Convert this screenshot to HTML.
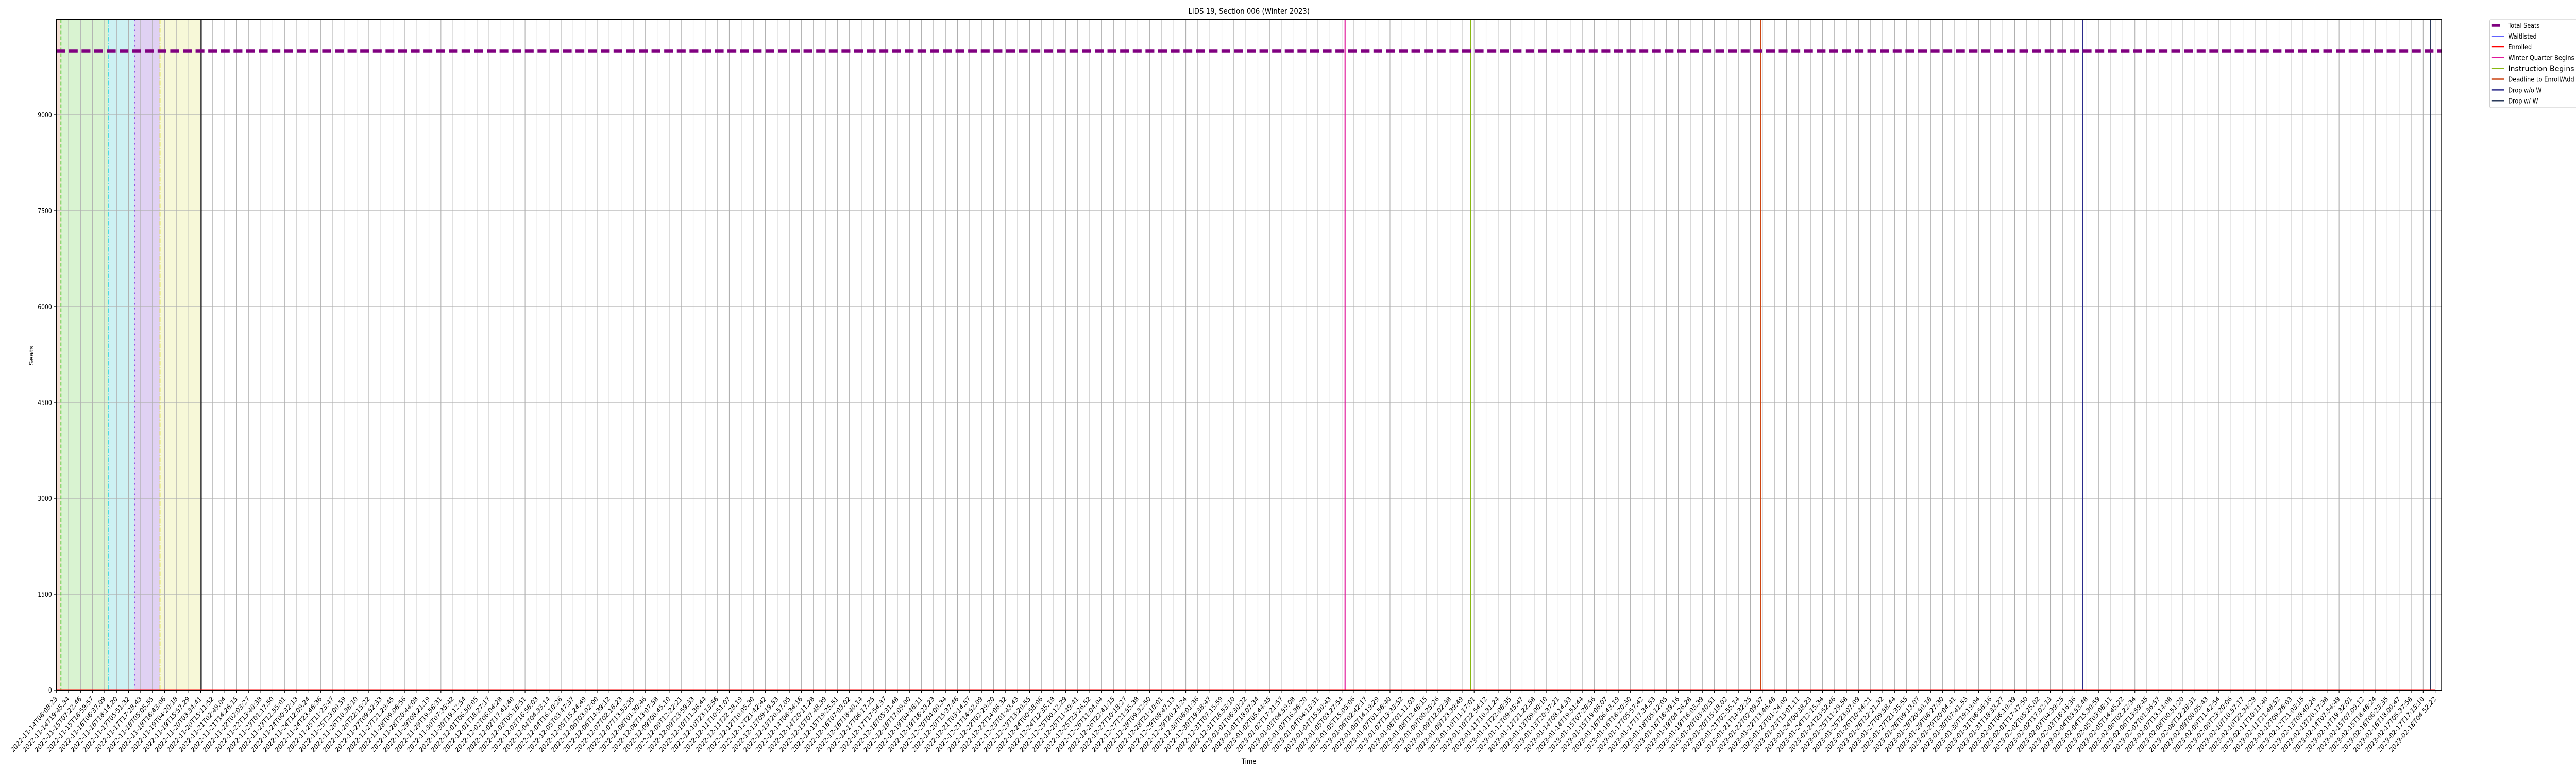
<!DOCTYPE html>
<html><head><meta charset="utf-8">
<style>
html,body{margin:0;padding:0;background:#fff;width:100%;height:100%;overflow:hidden;}
#chart{position:fixed;left:0;top:0;width:100vw;height:100vh;display:block;overflow:hidden;font-family:"DejaVu Sans","Liberation Sans",sans-serif;}
</style></head>
<body>
<svg id="chart" viewBox="0 0 6000 1500" preserveAspectRatio="none" xmlns="http://www.w3.org/2000/svg">
<rect x="0" y="0" width="6000" height="1500" fill="#fff"/>
<g id="spans"></g>
<g id="grid"></g>
<g id="events"></g>
<g id="series"></g>
<rect x="131" y="37.5" width="5556" height="1301.5" fill="none" stroke="#000" stroke-width="2"/>
<g id="xticks"></g>
<g id="yticks"></g>
<text x="2909" y="27" font-size="16" text-anchor="middle">LIDS 19, Section 006 (Winter 2023)</text>
<text x="2909" y="1482" font-size="14" text-anchor="middle">Time</text>
<text x="0" y="0" font-size="14" text-anchor="middle" transform="translate(78,690) rotate(-90)">Seats</text>
<g id="legend"></g>
</svg>
<script>
// ---- data ----
const seriesDays = [0, 95.864];
const totalSeats = [10000, 10000];
const enrolled = [0, 0];
const waitlisted = [0, 0];
const yTicks = [0, 1500, 3000, 4500, 6000, 7500, 9000];
const tickCount = 199;
const startTime = "2022-11-14T08:08:23";
const endTime = "2023-02-18T04:52:22";
const spanStarts = [-1, 0.18, 2.08, 3.14, 4.17];
const spanEnds = [0.18, 2.08, 3.14, 4.17, 5.83];
const spanColors = ["#f6e0d6", "#d9f3d1", "#cdf1f3", "#e0d1f3", "#f7f8d8"];
const boundaryDays = [0.18, 2.08, 3.14, 4.17, 5.83];
const boundaryColors = ["#33cc11", "#11ccdd", "#6a2bd9", "#dddd22", "#000000"];
const boundaryDash = ["7,4", "9,3,2,3", "3,7", "9,3,2,3", ""];
const eventNames = ["Winter Quarter Begins", "Instruction Begins", "Deadline to Enroll/Add", "Drop w/o W", "Drop w/ W"];
const eventDays = [51.93, 57.00, 68.69, 81.66, 95.68];
const eventColors = ["#e0169a", "#88b811", "#cc4411", "#2a2a8a", "#2a3a5a"];

// ---- scales ----
const X0 = 131.6, X1 = 5672, DMAX = 95.864;
const PL = 131, PR = 5687, PT = 37.5, PB = 1339;
function xs(d) { return X0 + (d / DMAX) * (X1 - X0); }
function ys(v) { return 1339 - v * (1339 - 223) / 9000; }
const NS = "http://www.w3.org/2000/svg";
function mk(tag, attrs, parent) {
  const e = document.createElementNS(NS, tag);
  for (const k in attrs) e.setAttribute(k, attrs[k]);
  parent.appendChild(e);
  return e;
}
function clampX(x) { return Math.max(PL, Math.min(PR, x)); }

const gS = document.getElementById('spans');
for (let i = 0; i < spanStarts.length; i++) {
  const a = clampX(xs(spanStarts[i])), b = clampX(xs(spanEnds[i]));
  const r = mk('rect', {x: a, y: PT, width: b - a, height: PB - PT, fill: spanColors[i]}, gS);
  
  
}

const gG = document.getElementById('grid');
const gX = document.getElementById('xticks');
const t0 = Date.parse(startTime + "Z"), t1 = Date.parse(endTime + "Z");
function fmt(ms) { return new Date(ms).toISOString().slice(0, 19); }
for (let i = 0; i < tickCount; i++) {
  const d = DMAX * i / (tickCount - 1);
  const x = xs(d);
  const gl = mk('line', {x1: x, x2: x, y1: PT, y2: PB, stroke: '#b0b0b0', 'stroke-width': 1.3}, gG);
  
  
  mk('line', {x1: x, x2: x, y1: PB, y2: PB + 5, stroke: '#000', 'stroke-width': 1.3}, gX);
  const lbl = fmt(t0 + (t1 - t0) * i / (tickCount - 1));
  const t = mk('text', {x: 0, y: 0, 'font-size': 13.5, 'text-anchor': 'end', transform: `translate(${x + 3},${PB + 18}) rotate(-45)`}, gX);
  t.textContent = lbl;
  
  
}
const gY = document.getElementById('yticks');
yTicks.forEach(v => {
  const y = ys(v);
  const gl = mk('line', {x1: PL, x2: PR, y1: y, y2: y, stroke: '#b0b0b0', 'stroke-width': 1.3}, gG);
  
  
  mk('line', {x1: PL - 6, x2: PL, y1: y, y2: y, stroke: '#000', 'stroke-width': 1.3}, gY);
  const t = mk('text', {x: PL - 10, y: y + 5, 'font-size': 13, 'text-anchor': 'end'}, gY);
  t.textContent = v;
  
  
});

const gE = document.getElementById('events');
boundaryDays.forEach((d, i) => {
  const x = xs(d);
  const l = mk('line', {x1: x, x2: x, y1: PT, y2: PB, stroke: boundaryColors[i], 'stroke-width': i === 4 ? 2.5 : 2}, gE);
  if (boundaryDash[i]) l.setAttribute('stroke-dasharray', boundaryDash[i]);
  
  
});
eventDays.forEach((d, i) => {
  const x = xs(d);
  const l = mk('line', {x1: x, x2: x, y1: PT, y2: PB, stroke: eventColors[i], 'stroke-width': 2.5}, gE);
  
  
});

const gSe = document.getElementById('series');
function pts(vals) { return seriesDays.map((d, i) => `${clampX(xs(d))},${ys(vals[i])}`).join(' '); }
const pw = mk('polyline', {points: pts(waitlisted), fill: 'none', stroke: '#0000ff', 'stroke-width': 1.5}, gSe);


const pe = mk('polyline', {points: pts(enrolled), fill: 'none', stroke: '#ff0000', 'stroke-width': 3}, gSe);


const totPts = seriesDays.map((d, i) => `${xs(d)},${ys(totalSeats[i])}`).join(' ');
const pt = mk('polyline', {points: `${PL},${ys(totalSeats[0])} ` + totPts + ` ${PR},${ys(totalSeats[totalSeats.length-1])}`, fill: 'none', stroke: '#800080', 'stroke-width': 5.5, 'stroke-dasharray': '20.5,9'}, gSe);



const gL = document.getElementById('legend');
mk('rect', {x: 5799, y: 38, width: 205, height: 171, rx: 3, fill: '#fff', stroke: '#d0d0d0', 'stroke-width': 1.3}, gL);
const legNames = ["Total Seats", "Waitlisted", "Enrolled"].concat(eventNames);
const legColors = ["#800080", "#0000ff", "#ff0000"].concat(eventColors);
const legW = [5.5, 1.5, 3, 2.5, 2.5, 2.5, 2.5, 2.5];
legNames.forEach((n, i) => {
  const y = 49 + i * 20.9;
  const g = mk('g', {}, gL);
  
  
  mk('line', {x1: 5803, x2: i === 0 ? 5823 : 5832, y1: y, y2: y, stroke: legColors[i], 'stroke-width': legW[i]}, g);
  const t = mk('text', {x: 5842, y: y + 5, 'font-size': 13.5}, g);
  t.textContent = n;
  if (n.length > 17) { t.setAttribute('textLength', 154); t.setAttribute('lengthAdjust', 'spacingAndGlyphs'); }
});
</script>
</body></html>
